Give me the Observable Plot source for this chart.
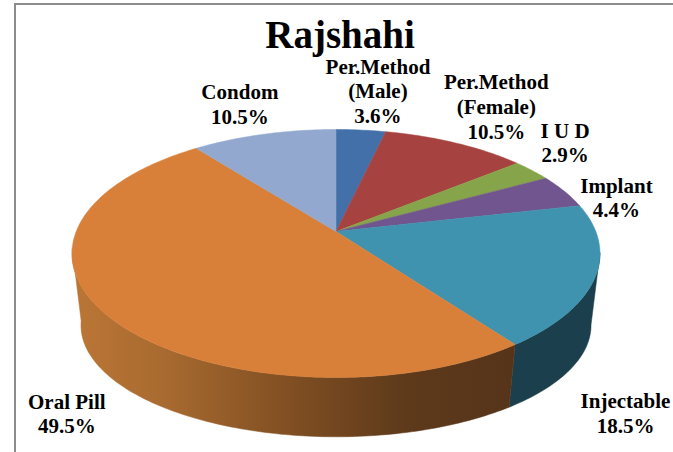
<!DOCTYPE html>
<html><head><meta charset="utf-8">
<style>
html,body{margin:0;padding:0;background:#fff;overflow:hidden;width:673px;height:452px}
#frame{position:absolute;left:14px;top:3px;width:800px;height:600px;border:2px solid #8c8c8c;box-sizing:border-box}
#chart{position:absolute;left:0;top:0}
svg{display:block;background:transparent!important}
</style>
<script src="https://cdn.jsdelivr.net/npm/d3@7"></script>
<script src="https://cdn.jsdelivr.net/npm/@observablehq/plot@0.6"></script>
</head><body>
<div id="frame"></div><div id="chart"></div>
<script>
const chartTitle = "Rajshahi";
const categories = ["Per.Method\n(Male)", "Per.Method\n(Female)", "I U D", "Implant", "Injectable", "Oral Pill", "Condom"];
const shares = [3.6, 10.5, 2.9, 4.4, 18.5, 49.5, 10.5];
const colors = ["#4370a8", "#a6423f", "#86a54b", "#70558f", "#3f93ae", "#d8803a", "#92a8cf"];
const labelNudge = [[17,-7],[41,-4],[33,-8],[52,26],[30,157],[-37,121],[-24,-10]];

// projected pie geometry (pixels around the apex of the top face)
const persp = 0.1774;
const topFace = {k:120.1, d:259.8, oy:0};
const baseFace = {k:108, d:251, oy:-74};
const rim = (f, deg) => {
  const a = deg*Math.PI/180, u = Math.sin(a), v = Math.cos(a), w = 1+persp*v;
  return {x:f.d*u/w, y:f.oy+f.k*v/w};
};
const total = d3.sum(shares);
const ends = d3.cumsum(shares).map(c => c/total*360);
const slices = categories.map((name,i) => ({name, value:shares[i], a0:i?ends[i-1]:0, a1:ends[i], color:colors[i]}));
const arc = (f,a0,a1) => { const n=Math.max(2,Math.ceil(Math.abs(a1-a0))); return d3.range(n+1).map(j=>rim(f,a0+(a1-a0)*j/n)); };
const wedge = s => [{x:0,y:0}, ...arc(topFace,s.a0,s.a1), {x:0,y:0}];
const wall = (a0,a1) => { const p=[...arc(topFace,a0,a1), ...arc(baseFace,a1,a0)]; return [...p,p[0]]; };
const inj = slices[4], oral = slices[5];

const defs = () => {
  const g = d3.create("svg:defs");
  const lg = g.append("linearGradient").attr("id","oralWall");
  [[0,"#bb7635"],[0.2,"#a96b30"],[0.5,"#7f4e22"],[0.75,"#5e3a1b"],[1,"#56341a"]].forEach(([o,c])=>lg.append("stop").attr("offset",o).attr("stop-color",c));
  return g.node();
};
const poly = (pts,fill) => Plot.line(pts,{x:"x",y:"y",fill,stroke:fill,strokeWidth:0.5,curve:"linear"});

const svg = Plot.plot({
  width:673,height:452,margin:0,
  x:{domain:[-335.5,337.5],range:[0,673],axis:null},
  y:{domain:[231,-221],range:[0,452],axis:null},
  style:{background:"transparent"},
  marks:[
    defs,
    poly(wall(100,inj.a1),"#1b3f4d"),
    poly(wall(inj.a1,262),"url(#oralWall)"),
    ...slices.map(s=>poly(wedge(s),s.color)),
    ...slices.map((s,i)=>{
      const m=rim(topFace,(s.a0+s.a1)/2);
      return Plot.text([{...m,t:`${s.name}\n${s.value.toFixed(1)}%`}],{x:"x",y:"y",text:"t",dx:labelNudge[i][0],dy:labelNudge[i][1],
        lineAnchor:"bottom",lineHeight:1.18,fontFamily:"Liberation Serif",fontWeight:"bold",fontSize:21,fill:"#000"});
    }),
    Plot.text([chartTitle],{frameAnchor:"top",dx:3,dy:20,fontFamily:"Liberation Serif",fontWeight:"bold",fontSize:39,fill:"#000"})
  ]
});
document.getElementById("chart").appendChild(svg);
</script>
</body></html>
